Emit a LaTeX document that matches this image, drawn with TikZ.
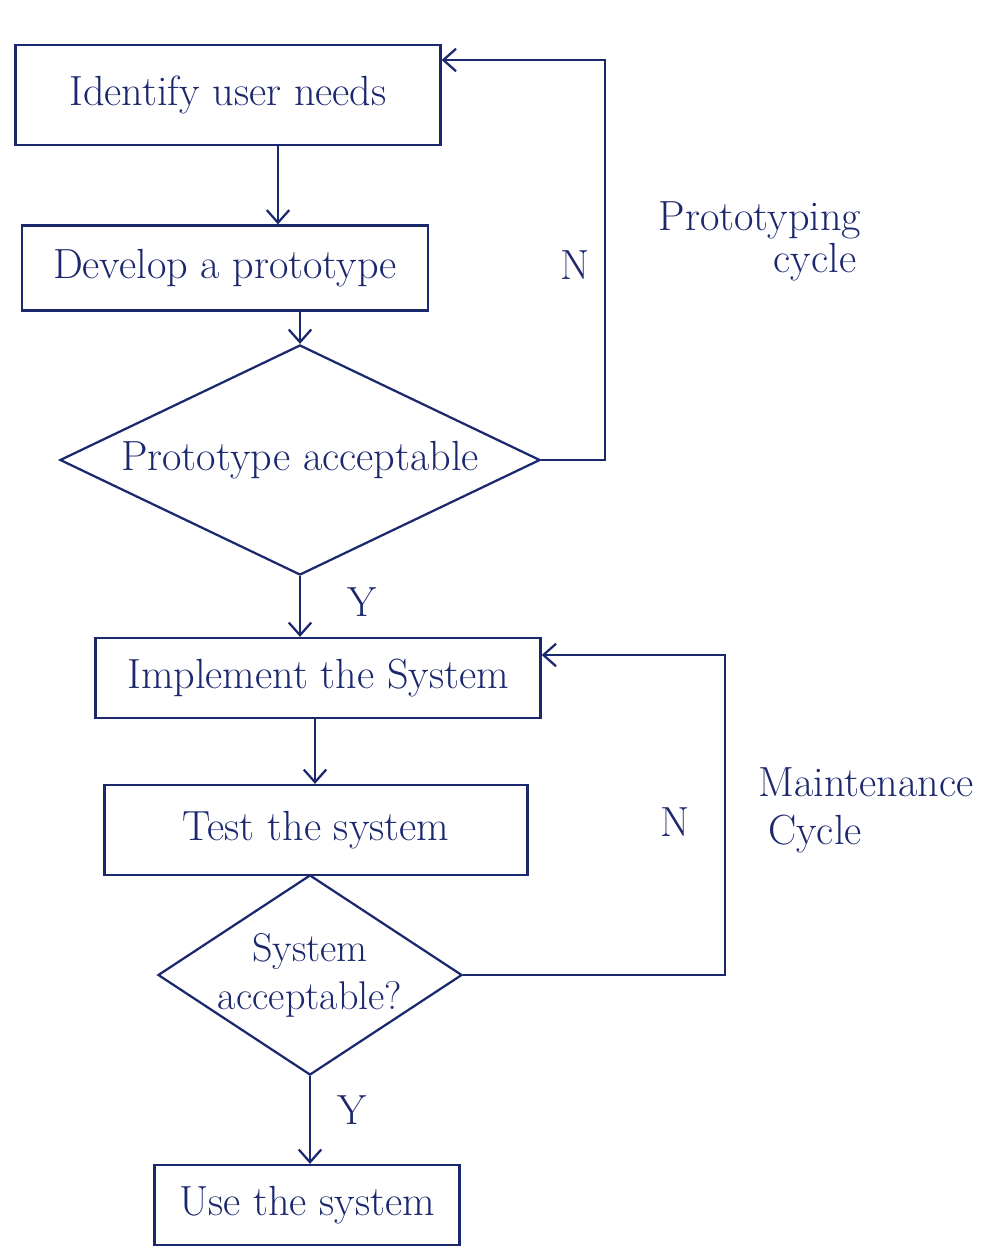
\documentclass[tikz,border=0pt]{standalone}
\usetikzlibrary{shapes.geometric,arrows.meta}
\definecolor{ink}{RGB}{28,40,110}
\begin{document}
\begin{tikzpicture}[x=0.025cm,y=-0.025cm,
  txt/.style={font=\fontsize{30}{35}\selectfont, text=ink},
  small/.style={font=\fontsize{28.5}{34}\selectfont, text=ink},
  box/.style={txt, draw=ink, line width=1.6pt, rectangle, inner sep=0pt},
  dec/.style={draw=ink, line width=1.6pt, diamond, inner sep=0pt},
  flow/.style={draw=ink, line width=1.6pt, -{Straight Barb[length=9pt,width=16pt,line width=1.6pt]}},
  line/.style={draw=ink, line width=1.6pt}]
\useasboundingbox (0,0) rectangle (1001,1256);

% boxes
\node[box, minimum width=10.625cm, minimum height=2.5cm] (n1) at (228,95) {Identify user needs};
\node[box, minimum width=10.15cm, minimum height=2.125cm] (n2) at (225,268) {Develop a prototype};
\node[dec, minimum width=12cm, minimum height=5.75cm,
      label={[txt]center:Prototype acceptable}] (d1) at (300,460) {};
\node[box, minimum width=11.125cm, minimum height=2cm] (n3) at (318,678) {Implement the System};
\node[box, minimum width=10.575cm, minimum height=2.25cm] (n4) at (316,830) {Test the system};
\node[dec, minimum width=7.6cm, minimum height=5cm,
      label={[small, align=center]center:System\\acceptable?}] (d2) at (310,975) {};
\node[box, minimum width=7.625cm, minimum height=2cm] (n5) at (307,1205) {Use the system};

% flow arrows
\draw[flow] (n1.south -| 278,0) -- (n2.north -| 278,0);
\draw[flow] (d1.north |- n2.south) -- (d1.north);
\draw[flow] (d1.south) -- (d1.south |- n3.north);
\draw[flow] (n3.south -| 315,0) -- (n4.north -| 315,0);
\draw[flow] (d2.south) -- (d2.south |- n5.north);

% loops
\coordinate (c1) at (605,60);
\draw[flow] (d1.east) -| (c1) -- (c1 -| n1.east);
\coordinate (c2) at (725,655);
\draw[flow] (d2.east) -| (c2) -- (c2 -| n3.east);

% labels
\node[txt] (y1) at (362,602) {Y};
\node[txt] (y2) at (352,1110) {Y};
\node[txt] (nn1) at (575,265) {N};
\node[txt] (nn2) at (675,822) {N};
\node[txt] (pc1) at (760,220) {Prototyping};
\node[txt] (pc2) at (815,262) {cycle};
\node[txt] (mc1) at (866,782) {Maintenance};
\node[txt] (mc2) at (815,834) {Cycle};
\end{tikzpicture}
\end{document}
